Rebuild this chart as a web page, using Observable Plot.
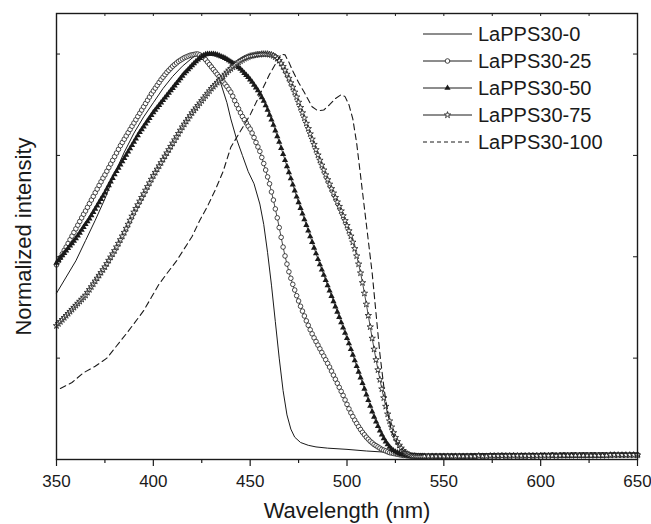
<!DOCTYPE html>
<html><head><meta charset="utf-8">
<script src="https://cdn.jsdelivr.net/npm/d3@7"></script>
<script src="https://cdn.jsdelivr.net/npm/@observablehq/plot@0.6"></script>
<style>
html,body{margin:0;padding:0;background:#fff;}
#wrap{position:relative;width:651px;height:524px;font-family:"Liberation Sans",Arial,sans-serif;}
#legend{position:absolute;left:0;top:0;pointer-events:none;}
</style></head><body><div id="wrap"></div>
<script>
// ---------- labels & ticks ----------
const seriesNames = ["LaPPS30-0","LaPPS30-25","LaPPS30-50","LaPPS30-75","LaPPS30-100"];
const xLabel = "Wavelength (nm)";
const yLabel = "Normalized intensity";
const xMajorTicks = [350,400,450,500,550,600,650];
const xMinorTicks = [375,425,475,525,575,625];
const yTicks = [0.25,0.5,0.75,1.0];

// ---------- LaPPS30-0 (solid line) ----------
const wl0 = [350,355,360,365,370,375,380,385,390,395,400,405,410,415,420,423,426,430,434,438,440,443,446,449,452,455,457,459,461,463,465,467,469,471,473,476,480,484,490,500,510,520,530,540,560,580,600,620,640,650];
const v0  = [.41,.45,.49,.54,.59,.643,.705,.758,.805,.845,.88,.915,.945,.97,.99,1.0,.995,.975,.94,.88,.84,.79,.75,.71,.68,.63,.58,.51,.43,.34,.25,.17,.11,.075,.055,.042,.035,.031,.028,.025,.021,.018,.015,.014,.014,.015,.015,.016,.016,.016];

// ---------- LaPPS30-100 (dashed line) ----------
const wl100 = [352,358,364,370,376,381,386,390,395,399,403,408,412,416,420,424,428,432,436,440,445,450,455,460,463,466,468,470,472,475,478,482,485,488,491,494,497,499,501,503,505,507,509,511,513,515,517,519,521,523,526,529,532,540,560,580,600,620,640,650];
const v100  = [.175,.19,.214,.23,.25,.28,.31,.335,.367,.40,.433,.465,.49,.52,.55,.59,.625,.665,.71,.77,.81,.85,.90,.95,.975,1.0,.998,.98,.958,.93,.905,.87,.86,.862,.875,.89,.90,.895,.875,.84,.78,.70,.62,.54,.46,.36,.26,.18,.115,.07,.04,.022,.015,.013,.013,.014,.015,.016,.016,.016];

// ---------- marker series: 1 nm grid 350-540, 2 nm grid 542-650 ----------
const wlDense = d3.range(350, 541, 1);
const wlTail  = d3.range(542, 651, 2);

const v25Dense = [
.480,.489,.498,.507,.516,.524,.533,.542,.551,.560,
.569,.578,.587,.596,.605,.613,.622,.631,.640,.649,
.658,.667,.676,.685,.694,.702,.711,.720,.729,.738,
.747,.756,.765,.774,.782,.790,.798,.806,.814,.822,
.830,.838,.846,.854,.862,.870,.878,.886,.894,.902,
.909,.916,.923,.930,.937,.943,.949,.955,.960,.965,
.970,.974,.978,.982,.985,.988,.991,.993,.995,.997,
.998,.999,1.000,1.000,.998,.995,.991,.986,.980,.974,
.968,.962,.956,.950,.944,.938,.932,.926,.920,.913,
.906,.896,.885,.875,.865,.855,.846,.838,.830,.822,
.815,.805,.794,.782,.771,.760,.745,.730,.714,.697,
.680,.660,.640,.618,.596,.572,.548,.524,.502,.482,
.463,.447,.432,.418,.404,.391,.378,.366,.354,.342,
.331,.320,.310,.300,.291,.282,.273,.264,.255,.246,
.237,.228,.218,.208,.198,.188,.178,.168,.158,.147,
.136,.125,.115,.106,.097,.089,.081,.074,.067,.061,
.055,.050,.045,.041,.037,.034,.031,.028,.025,.023,
.021,.019,.017,.016,.015,.014,.013,.012,.011,.010,
.010,.009,.009,.008,.008,.008,.008,.007,.007,.007,
.007];
const v25Tail = [
.007,.007,.008,.008,.007,.008,.008,.008,.008,.008,
.009,.008,.008,.009,.008,.009,.009,.009,.009,.010,
.009,.009,.010,.009,.009,.009,.010,.009,.010,.010,
.010,.010,.011,.010,.010,.010,.010,.010,.011,.010,
.010,.011,.011,.011,.011,.011,.011,.011,.012,.012,
.012,.012,.012,.012,.012];

const v50Dense = [
.485,.491,.497,.503,.509,.515,.521,.527,.533,.539,
.545,.552,.559,.566,.573,.580,.587,.594,.602,.610,
.618,.626,.634,.642,.650,.658,.667,.676,.685,.694,
.703,.711,.719,.727,.735,.743,.751,.759,.767,.775,
.783,.791,.799,.807,.814,.821,.828,.835,.842,.849,
.856,.862,.868,.874,.880,.886,.892,.898,.904,.910,
.916,.922,.928,.934,.940,.946,.952,.957,.962,.967,
.972,.977,.982,.986,.990,.994,.997,.999,1.000,1.000,
1.000,1.000,.999,.998,.996,.994,.992,.990,.987,.984,
.981,.978,.975,.971,.967,.963,.958,.953,.948,.943,
.937,.931,.924,.917,.910,.902,.893,.884,.873,.862,
.850,.838,.825,.811,.797,.783,.768,.753,.738,.723,
.708,.693,.678,.663,.648,.634,.620,.606,.592,.578,
.564,.550,.536,.522,.508,.494,.481,.468,.455,.442,
.429,.416,.403,.390,.377,.364,.351,.338,.325,.312,
.299,.286,.272,.258,.244,.230,.216,.202,.188,.174,
.160,.146,.132,.118,.105,.093,.082,.071,.061,.052,
.044,.037,.031,.026,.022,.019,.017,.015,.013,.012,
.011,.010,.009,.009,.008,.008,.008,.008,.007,.007,
.007];
const v50Tail = [
.007,.007,.007,.007,.007,.007,.007,.008,.007,.007,
.007,.008,.007,.008,.008,.008,.008,.008,.008,.008,
.008,.008,.008,.008,.008,.008,.008,.009,.008,.008,
.008,.009,.009,.008,.009,.009,.009,.009,.009,.009,
.009,.009,.009,.009,.009,.009,.010,.010,.010,.010,
.010,.010,.010,.010,.010];

const v75Dense = [
.330,.335,.340,.345,.350,.355,.360,.365,.370,.375,
.380,.385,.390,.395,.400,.405,.412,.419,.426,.433,
.440,.447,.454,.461,.468,.475,.483,.491,.499,.507,
.515,.524,.533,.542,.551,.560,.570,.580,.590,.600,
.610,.619,.628,.637,.646,.655,.664,.673,.682,.691,
.700,.708,.716,.724,.732,.740,.748,.756,.764,.772,
.780,.788,.796,.804,.812,.820,.827,.834,.841,.848,
.855,.861,.867,.873,.879,.885,.891,.897,.903,.909,
.915,.920,.925,.930,.935,.940,.945,.950,.955,.960,
.964,.968,.972,.976,.980,.983,.986,.989,.991,.993,
.995,.996,.997,.998,.999,.999,1.000,1.000,1.000,1.000,
.999,.998,.996,.993,.989,.984,.977,.969,.960,.950,
.940,.929,.918,.906,.894,.881,.868,.855,.842,.829,
.816,.803,.790,.777,.764,.751,.738,.726,.714,.702,
.690,.679,.668,.657,.646,.635,.624,.613,.601,.589,
.577,.564,.551,.536,.520,.502,.482,.460,.436,.410,
.383,.355,.327,.299,.272,.246,.221,.197,.174,.152,
.131,.112,.095,.080,.066,.054,.044,.035,.028,.022,
.017,.014,.012,.010,.009,.009,.008,.008,.008,.008,
.008];
const v75Tail = [
.008,.008,.008,.008,.008,.008,.008,.008,.008,.008,
.008,.008,.008,.009,.008,.008,.009,.009,.009,.009,
.009,.009,.009,.009,.009,.009,.009,.009,.009,.009,
.009,.009,.010,.009,.010,.010,.010,.010,.010,.010,
.010,.010,.010,.010,.010,.010,.010,.011,.011,.011,
.011,.011,.011,.011,.011];

// ---------- build tables ----------
function rowsFrom(wls, vals) {
  const n = Math.min(wls.length, vals.length);
  const out = [];
  for (let i = 0; i < n; i++) out.push({wl: wls[i], v: vals[i]});
  return out;
}
const wlMarker = wlDense.concat(wlTail);
const d0 = rowsFrom(wl0, v0);
const d100 = rowsFrom(wl100, v100);
const d25 = rowsFrom(wlMarker, v25Dense.concat(v25Tail));
const d50 = rowsFrom(wlMarker, v50Dense.concat(v50Tail));
const d75 = rowsFrom(wlMarker, v75Dense.concat(v75Tail));

const W = 651, H = 524, mL = 56, mR = 14, mT = 13, mB = 65;
const plotW = W - mL - mR, plotH = H - mT - mB;
const ink = "#1a1a1a";
const font = '"Liberation Sans", Arial, sans-serif';
const sym = {
  c: {symbol: "circle", r: 2.3, fill: "white", stroke: ink, strokeWidth: 0.8},
  t: {symbol: "triangle", r: 2.3, fill: ink, stroke: "none"},
  s: {symbol: "star", r: 2.0, fill: "white", stroke: ink, strokeWidth: 0.8}
};

const chart = Plot.plot({
  width: W, height: H,
  marginLeft: mL, marginRight: mR, marginTop: mT, marginBottom: mB,
  style: {fontFamily: font, color: ink, background: "white", overflow: "visible"},
  x: {domain: [350, 650], axis: null},
  y: {domain: [0, 1.1], axis: null},
  marks: [
    // series
    Plot.line(d0, {x: "wl", y: "v", stroke: ink, strokeWidth: 1}),
    Plot.line(d25, {x: "wl", y: "v", stroke: ink, strokeWidth: 0.8}),
    Plot.dot(d25, {x: "wl", y: "v", ...sym.c}),
    Plot.line(d50, {x: "wl", y: "v", stroke: ink, strokeWidth: 0.8}),
    Plot.dot(d50, {x: "wl", y: "v", ...sym.t}),
    Plot.line(d75, {x: "wl", y: "v", stroke: ink, strokeWidth: 0.8}),
    Plot.dot(d75, {x: "wl", y: "v", ...sym.s}),
    Plot.line(d100, {x: "wl", y: "v", stroke: ink, strokeWidth: 1.1, strokeDasharray: "6,4"}),
    // frame & ticks
    Plot.frame({stroke: ink, strokeWidth: 1.4}),
    Plot.tickX(xMajorTicks, {x: d => d, insetTop: plotH, insetBottom: -7, stroke: ink, strokeWidth: 1.2}),
    Plot.tickX(xMinorTicks, {x: d => d, insetTop: plotH, insetBottom: -4, stroke: ink, strokeWidth: 1.2}),
    Plot.tickX(xMajorTicks.concat(xMinorTicks), {x: d => d, insetBottom: plotH - 3, stroke: ink}),
    Plot.tickY(yTicks, {y: d => d, insetRight: plotW - 4, stroke: ink}),
    Plot.tickY(yTicks, {y: d => d, insetLeft: plotW - 4, stroke: ink}),
    Plot.text(xMajorTicks, {x: d => d, text: d => String(d), frameAnchor: "bottom", dy: 22, lineAnchor: "middle", textAnchor: "middle", fontSize: 17, fill: ink}),
    // axis titles
    Plot.text([xLabel], {frameAnchor: "bottom", dy: 51, lineAnchor: "middle", textAnchor: "middle", fontSize: 22, fill: ink}),
    Plot.text([yLabel], {frameAnchor: "left", dx: -33, rotate: -90, lineAnchor: "middle", textAnchor: "middle", fontSize: 22, fill: ink})
  ]
});
document.getElementById("wrap").appendChild(chart);

// ---------- legend (top-right, inside the frame) ----------
const leg = d3.select("#wrap").append("svg").attr("id", "legend")
  .attr("width", W).attr("height", H);
const symTypes = {circle: d3.symbolCircle, triangle: d3.symbolTriangle, star: d3.symbolStar};
const legendStyles = [{dash: null}, {dash: null, m: sym.c}, {dash: null, m: sym.t}, {dash: null, m: sym.s}, {dash: "4,3"}];
const lx0 = 423, lx1 = 472, ly0 = 34, ldy = 27;
seriesNames.forEach((name, i) => {
  const y = ly0 + i * ldy, st = legendStyles[i];
  const g = leg.append("g");
  g.append("line").attr("x1", lx0).attr("x2", lx1).attr("y1", y).attr("y2", y)
    .attr("stroke", ink).attr("stroke-width", 1).attr("stroke-dasharray", st.dash);
  if (st.m) {
    g.append("path").attr("d", d3.symbol(symTypes[st.m.symbol], Math.PI * st.m.r * st.m.r)())
      .attr("transform", `translate(${(lx0 + lx1) / 2},${y})`)
      .attr("fill", st.m.fill).attr("stroke", st.m.stroke).attr("stroke-width", st.m.strokeWidth || 0);
  }
  g.append("text").attr("x", lx1 + 6).attr("y", y).attr("dy", "0.35em")
    .attr("font-size", 20).attr("fill", ink)
    .attr("font-family", font).text(name);
});
</script>
</body></html>
